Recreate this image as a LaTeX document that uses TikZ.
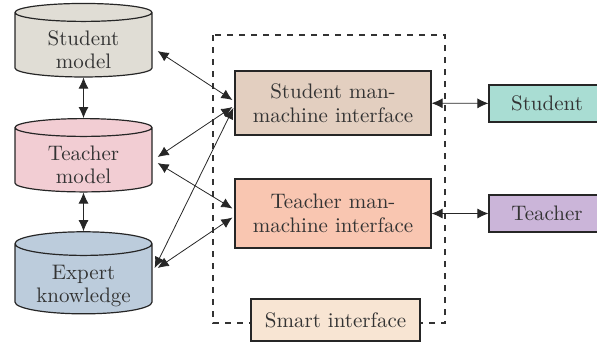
\documentclass[tikz,border=0pt]{standalone}
\usetikzlibrary{arrows,arrows.meta,positioning,shapes.geometric,calc}
\definecolor{smodel}{HTML}{E0DDD5}
\definecolor{tmodel}{HTML}{F2CDD3}
\definecolor{ekno}{HTML}{BCCCDC}
\definecolor{smmi}{HTML}{E3CFC0}
\definecolor{tmmi}{HTML}{F9C6B1}
\definecolor{smart}{HTML}{F8E5D3}
\definecolor{stud}{HTML}{A9DDD3}
\definecolor{teach}{HTML}{CBB5D9}
% two lines, set a little lower than the middle of the cylinder
\newcommand{\dbtext}[2]{\raisebox{-3.5pt}[\height][\depth]{\begin{tabular}{@{}c@{}}#1\\#2\end{tabular}}}
\tikzset{
  txt/.style={text=black!80, font=\fontsize{10.5}{12}\selectfont, align=center},
  db/.style={text=black!80, font=\fontsize{10.5}{11.5}\selectfont, cylinder, shape border rotate=90,
    draw=black!85, line width=0.6pt, aspect=0.25, minimum width=68.5pt, minimum height=36pt, inner sep=0pt},
  panel/.style={txt, draw=black!85, line width=0.6pt, inner sep=0pt}
}
\begin{document}
\begin{tikzpicture}[x=0.5pt,y=-0.5pt,line/.style={>={Latex[length=5.5pt,width=5pt]}}]
        \useasboundingbox (0,0) rectangle (597,345);
        % knowledge bases
        \node[db, fill=smodel] (sm) at (83.5, 45) {\dbtext{Student}{model}};
        \node[db, fill=tmodel] (tm) at (83.5, 160) {\dbtext{Teacher}{model}};
        \node[db, fill=ekno] (ek) at (83.5, 279) {\dbtext{Expert}{knowledge}};

        % interface frame
        \draw[dashed, black!80, line width=0.6pt] (213, 35) rectangle (445, 323);
        \node[panel, fill=smmi, minimum width=98pt, minimum height=32pt] (smi) at (333, 103) {Student man-\\machine interface};
        \node[panel, fill=tmmi, minimum width=98pt, minimum height=34.5pt] (tmi) at (333, 213.5) {Teacher man-\\machine interface};
        \node[panel, fill=smart, minimum width=84.5pt, minimum height=21pt] (si) at (335.5, 320) {Smart interface};

        % users
        \node[panel, fill=stud, minimum width=58pt, minimum height=18.5pt] (st) at (547, 103.5) {Student};
        \node[panel, fill=teach, minimum width=58pt, minimum height=18.5pt] (te) at (547, 213.5) {Teacher};

        \draw[<->, line, black!85] (sm) -- (tm);
        \draw[<->, line, black!85] (tm) -- (ek);
        \draw[<->, line, black!85] ($(sm.east)+(5,6)$) -- ($(smi.west)+(-2,-3)$);
        \draw[<->, line, black!85] ($(tm.east)+(5,-3)$) -- ($(smi.west)+(-2,4)$);
        \draw[<->, line, black!85] ($(ek.east)+(2,-11)$) -- ($(smi.west)+(-1,5)$);
        \draw[<->, line, black!85] ($(tm.east)+(5,3)$) -- ($(tmi.west)+(-2,-5)$);
        \draw[<->, line, black!85] ($(ek.east)+(5,-11)$) -- ($(tmi.west)+(-2,4)$);
        \draw[<->, line, black!85] (smi) -- (st);
        \draw[<->, line, black!85] (tmi) -- (te);
    \end{tikzpicture}
\end{document}
